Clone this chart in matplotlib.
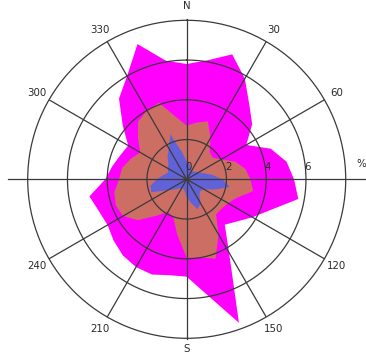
import numpy as np
import matplotlib
matplotlib.use("Agg")
import matplotlib.pyplot as plt

# Wind rose: frequency (%) per 10-degree sector, three classes
directions = list(range(0, 360, 10))

outer_pct = [5.8, 6.08, 6.69, 5.85, 4.9, 4.3, 3.46, 4.5, 5.1, 5.4, 5.7, 4.5,
             3.82, 3.3, 2.98, 4.26, 7.68, 5.9, 4.9, 4.9, 5.1, 5.1, 5.0, 4.8,
             4.6, 4.7, 4.97, 4.1, 3.8, 3.55, 3.4, 4.2, 5.3, 6.0, 7.24, 6.06]

middle_pct = [2.7, 2.9, 3.1, 2.4, 1.8, 1.7, 2.0, 2.6, 3.0, 3.2, 3.4, 2.7,
              2.4, 2.3, 2.3, 3.2, 4.25, 4.0, 3.95, 2.8, 2.0, 1.9, 2.4, 3.2,
              3.7, 3.8, 3.7, 3.4, 3.3, 3.0, 2.7, 3.2, 3.8, 4.0, 4.1, 3.2]

inner_pct = [0.9, 0.8, 0.6, 0.5, 0.5, 0.6, 0.7, 0.9, 1.3, 1.8, 2.2, 1.5,
             1.0, 0.9, 1.0, 1.4, 1.6, 1.2, 0.9, 0.6, 0.5, 0.5, 0.6, 0.8,
             1.1, 1.9, 1.85, 1.5, 1.2, 1.0, 1.1, 1.2, 1.5, 1.8, 2.4, 1.4]

ring_values = [2, 4, 6]
ring_labels = ["0", "2", "4", "6"]
spoke_angles = [30, 60, 120, 150, 210, 240, 300, 330]
spoke_labels = ["30", "60", "120", "150", "210", "240", "300", "330"]
r_max = 8

fig = plt.figure(figsize=(3.66, 3.56), dpi=100)
ax = fig.add_axes([0.0757, 0.0497, 0.8689, 0.8933], projection="polar")
ax.set_theta_zero_location("N")
ax.set_theta_direction(-1)
ax.set_ylim(0, r_max)
ax.grid(False)
ax.set_xticks([])
ax.set_yticks([])
ax.spines["polar"].set_color("#3a3a3a")
ax.spines["polar"].set_linewidth(0.9)

def closed(vals):
    th = np.deg2rad(directions + [directions[0]])
    return th, list(vals) + [vals[0]]

for vals, col in [(outer_pct, "#ff00ff"), (middle_pct, "#cc6e64"),
                  (inner_pct, "#6262d8")]:
    th, r = closed(vals)
    ax.fill(th, r, color=col, lw=0, zorder=1)

line_kw = dict(color="#3a3a3a", lw=0.9, zorder=3)
circ = np.linspace(0, 2 * np.pi, 400)
for rv in ring_values:
    ax.plot(circ, np.full_like(circ, rv), **line_kw)

for a in spoke_angles:
    ax.plot([np.deg2rad(a)] * 2, [0, r_max], **line_kw)

# main axes lines
ax.plot([0, 0], [0, 8.08], clip_on=False, **line_kw)
ax.plot([np.pi, np.pi], [0, 8.05], clip_on=False, **line_kw)
ax.plot([np.pi / 2] * 2, [0, 9.1], clip_on=False, **line_kw)
ax.plot([3 * np.pi / 2] * 2, [0, 9.0], clip_on=False, **line_kw)

txt_kw = dict(ha="center", va="center", fontsize=7.4, color="#2a2a2a",
              family="DejaVu Sans")
for a, lab in zip(spoke_angles, spoke_labels):
    ax.text(np.deg2rad(a), 8.7, lab, **txt_kw)
ax.text(0, 8.7, "N", **txt_kw)
ax.text(np.pi, 8.55, "S", **txt_kw)

for rv, lab in zip([0] + ring_values, ring_labels):
    ax.annotate(lab, (np.pi / 2, rv), xytext=(1.8, 12.5),
                textcoords="offset pixels", **txt_kw)
ax.annotate("%", (np.pi / 2, r_max), xytext=(16, 15),
            textcoords="offset pixels", **txt_kw)

fig.savefig("out.png", dpi=100)
